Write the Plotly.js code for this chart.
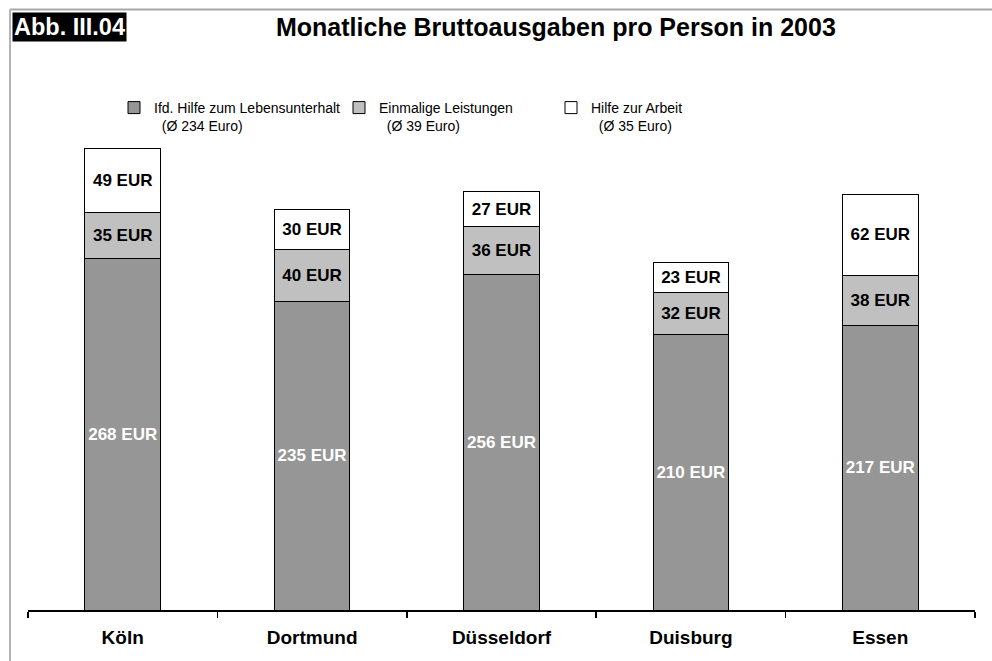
<!DOCTYPE html>
<html><head><meta charset="utf-8">
<script src="https://cdn.plot.ly/plotly-3.0.1.min.js"></script>
<style>html,body{margin:0;padding:0;background:#fff}#chart{width:992px;height:661px}</style>
</head><body><div id="chart"></div><script>
// Data
const cities = ['Köln', 'Dortmund', 'Düsseldorf', 'Duisburg', 'Essen'];
const laufendeHilfe = [268, 235, 256, 210, 217];
const einmaligeLeistungen = [35, 40, 36, 32, 38];
const hilfeZurArbeit = [49, 30, 27, 23, 62];
const seriesNames = [
  'Ifd. Hilfe zum Lebensunterhalt<br>\u00a0\u00a0(Ø 234 Euro)',
  'Einmalige Leistungen<br>\u00a0\u00a0(Ø 39 Euro)',
  'Hilfe zur Arbeit<br>\u00a0\u00a0(Ø 35 Euro)'
];
const unit = ' EUR';

// plot geometry (pixels)
const L = 28, R = 17, T = 90, B = 51, W = 992, H = 661;
const pw = W - L - R, ph = H - T - B;
const px = x => (x - L) / pw;
const py = y => (H - B - y) / ph;

const barFont = {family: 'Liberation Sans, Arial, sans-serif', size: 17};
const legFont = {family: 'Liberation Sans, Arial, sans-serif', size: 14, color: '#000'};

function trace(vals, name, color, txtColor, legendId) {
  return {
    type: 'bar', x: cities, y: vals, name: name,
    text: vals.map(v => v + unit), textposition: 'inside', insidetextanchor: 'middle',
    textangle: 0, constraintext: 'none',
    textfont: Object.assign({}, barFont, {color: txtColor, weight: 'bold'}),
    marker: {color: color, line: {color: '#000', width: 1}},
    hoverinfo: 'skip', legend: legendId
  };
}

const data = [
  trace(laufendeHilfe, seriesNames[0], '#969696', '#ffffff', 'legend'),
  trace(einmaligeLeistungen, seriesNames[1], '#c0c0c0', '#000000', 'legend2'),
  trace(hilfeZurArbeit, seriesNames[2], '#ffffff', '#000000', 'legend3')
];

function leg(xpx) {
  return {x: px(xpx), xanchor: 'left', y: py(92), yanchor: 'top', orientation: 'v',
    font: legFont, bgcolor: 'rgba(0,0,0,0)', borderwidth: 0, valign: 'top',
    itemwidth: 30, tracegroupgap: 0};
}

const layout = {
  width: W, height: H,
  margin: {l: L, r: R, t: T, b: B, pad: 0},
  paper_bgcolor: '#fff', plot_bgcolor: '#fff',
  barmode: 'stack', bargap: 0.6,
  showlegend: true,
  title: {text: 'Monatliche Bruttoausgaben pro Person in 2003', xref: 'container', yref: 'container',
    x: 276 / W, xanchor: 'left', y: 1 - 27 / H, yanchor: 'middle',
    font: {family: 'Liberation Sans, Arial, sans-serif', size: 25, color: '#000', weight: 'bold'}},
  legend: leg(114),
  legend2: leg(339),
  legend3: leg(551),
  xaxis: {
    type: 'category', showline: true, linecolor: '#000', linewidth: 1.5,
    ticks: 'outside', tickson: 'boundaries', ticklen: 6, tickcolor: '#000', tickwidth: 1.5,
    showgrid: false, zeroline: false, fixedrange: true, ticklabelstandoff: 10,
    tickfont: {family: 'Liberation Sans, Arial, sans-serif', size: 19, color: '#000', weight: 'bold'}
  },
  yaxis: {visible: false, range: [0, 396.3], fixedrange: true, showgrid: false, zeroline: false},
  annotations: [{
    text: 'Abb. III.04', xref: 'paper', yref: 'paper', x: px(12), xanchor: 'left', y: py(12), yanchor: 'top',
    showarrow: false, bgcolor: '#000', borderpad: 1,
    font: {family: 'Liberation Sans, Arial, sans-serif', size: 23.5, color: '#fff', weight: 'bold'}
  }],
  shapes: [
    {type: 'line', xref: 'paper', yref: 'paper', x0: px(10), x1: px(992), y0: py(9.5), y1: py(9.5), line: {color: '#a8a8a8', width: 2}, layer: 'below'},
    {type: 'line', xref: 'paper', yref: 'paper', x0: px(10), x1: px(10), y0: py(9.5), y1: py(661), line: {color: '#b4b4b4', width: 2}, layer: 'below'}
  ]
};

Plotly.newPlot('chart', data, layout, {displayModeBar: false, staticPlot: true});
</script></body></html>
